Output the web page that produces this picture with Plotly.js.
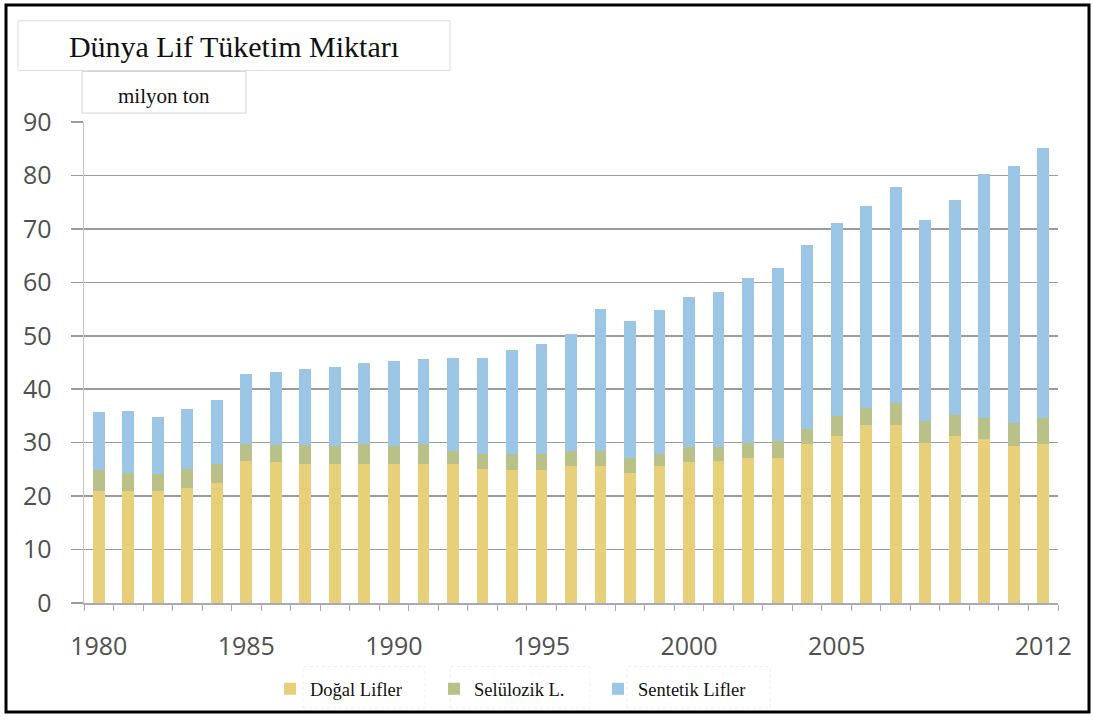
<!DOCTYPE html>
<html>
<head>
<meta charset="utf-8">
<script src="https://cdn.plot.ly/plotly-3.0.1.min.js"></script>
<style>
  html, body { margin: 0; padding: 0; background: #fff; }
  #chart { width: 1093px; height: 720px; }
</style>
</head>
<body>
<div id="chart"></div>
<script>
const years = [1980,1981,1982,1983,1984,1985,1986,1987,1988,1989,1990,1991,1992,1993,1994,1995,1996,1997,1998,1999,2000,2001,2002,2003,2004,2005,2006,2007,2008,2009,2010,2011,2012];
const dogalLifler = [21.0,21.0,21.0,21.5,22.4,26.5,26.3,26.0,26.0,26.0,26.0,26.0,26.0,25.1,24.8,24.8,25.7,25.7,24.4,25.7,26.3,26.6,27.2,27.2,29.7,31.3,33.4,33.4,30.0,31.2,30.6,29.4,29.7];
const seluloz = [3.8,3.4,3.1,3.6,3.6,3.3,3.3,3.6,3.4,3.7,3.4,3.7,2.5,2.7,3.0,3.0,2.8,2.8,2.8,2.1,2.8,2.5,2.8,3.1,2.8,3.7,3.1,4.0,4.0,4.0,4.0,4.3,4.9];
const sentetik = [10.9,11.5,10.7,11.2,12.0,13.0,13.7,14.2,14.8,15.2,15.9,16.0,17.4,18.1,19.5,20.6,21.9,26.5,25.5,27.1,28.1,29.0,30.9,32.4,34.4,36.1,37.8,40.5,37.7,40.2,45.7,48.1,50.6];
const seriesNames = ['Doğal Lifler', 'Selülozik L.', 'Sentetik Lifler'];
const xTickVals = [1980,1985,1990,1995,2000,2005,2012];
const xTickText = ['1980','1985','1990','1995','2000','2005','2012'];
const yTickVals = [0,10,20,30,40,50,60,70,80,90];
const chartTitle = 'Dünya Lif Tüketim Miktarı';
const unitLabel = 'milyon ton';

const colors = ['#E8D07A', '#B9C189', '#9CC6E6'];
const serif = 'Liberation Serif, Times New Roman, serif';
const sans = 'Open Sans, Lato, sans-serif';

const traces = [dogalLifler, seluloz, sentetik].map((vals, i) => ({
  type: 'bar',
  x: years,
  y: vals,
  name: seriesNames[i],
  marker: { color: colors[i], line: { width: 0 } },
  hoverinfo: 'skip'
}));

// pixel helpers for decoration placement (plot area: x 84..1058, y 122..607)
const L = 84, R = 1058, T = 122, B = 607;
const px = v => (v - L) / (R - L);
const py = v => (B - v) / (B - T);

const layout = {
  width: 1093,
  height: 720,
  margin: { l: L, r: 1093 - R, t: T, b: 720 - B, pad: 0 },
  paper_bgcolor: '#ffffff',
  plot_bgcolor: '#ffffff',
  barmode: 'stack',
  bargap: 0.6,
  showlegend: true,
  title: {
    text: chartTitle,
    x: 234 / 1093, xref: 'container', xanchor: 'center',
    y: 1 - 46 / 720, yref: 'container', yanchor: 'middle',
    font: { family: serif, size: 30, color: '#111' }
  },
  xaxis: {
    type: 'linear',
    range: [1979.5, 2012.5],
    tickmode: 'array',
    tickvals: xTickVals,
    ticktext: xTickText,
    ticks: '',
    ticklabelstandoff: 20,
    tickfont: { family: sans, size: 25, color: '#505050' },
    showgrid: false,
    zeroline: false,
    showline: true,
    linecolor: '#a9a9bd',
    linewidth: 1.5,
    minor: { ticks: 'outside', tick0: 1979.5, dtick: 1, ticklen: 6, tickwidth: 1, tickcolor: '#a9a9c4', showgrid: false },
    fixedrange: true
  },
  yaxis: {
    range: [0, 90],
    tickmode: 'array',
    tickvals: yTickVals,
    ticks: 'outside',
    ticklen: 12,
    tickwidth: 1.5,
    tickcolor: '#9c9c9c',
    ticklabelstandoff: 14,
    tickfont: { family: sans, size: 25, color: '#505050' },
    showgrid: true,
    gridcolor: '#9c9c9c',
    gridwidth: 1.5,
    zeroline: false,
    showline: true,
    linecolor: '#c4c4c4',
    linewidth: 1.5,
    fixedrange: true
  },
  legend: {
    orientation: 'h',
    x: px(270), xanchor: 'left',
    y: py(694), yanchor: 'middle',
    bgcolor: 'rgba(0,0,0,0)',
    font: { family: serif, size: 18.5, color: '#111' },
    traceorder: 'normal',
    entrywidth: 119,
    entrywidthmode: 'pixels',
    itemclick: false, itemdoubleclick: false
  },
  annotations: [
    {
      text: unitLabel, xref: 'paper', yref: 'paper',
      x: px(164), y: py(96), xanchor: 'center', yanchor: 'middle',
      showarrow: false, font: { family: serif, size: 21, color: '#111' }
    }
  ],
  shapes: [
    // outer frame
    { type: 'rect', xref: 'paper', yref: 'paper', x0: px(6), x1: px(1089), y0: py(717), y1: py(4),
      line: { color: '#000', width: 3 }, fillcolor: 'rgba(0,0,0,0)', layer: 'above' },
    // title box
    { type: 'rect', xref: 'paper', yref: 'paper', x0: px(18), x1: px(450), y0: py(70), y1: py(20),
      line: { color: '#dddddd', width: 1 }, fillcolor: 'rgba(0,0,0,0)' },
    // unit box
    { type: 'rect', xref: 'paper', yref: 'paper', x0: px(82), x1: px(246), y0: py(113), y1: py(71),
      line: { color: '#d4d4d4', width: 1 }, fillcolor: 'rgba(0,0,0,0)' },
    // faint legend item boxes
    { type: 'rect', xref: 'paper', yref: 'paper', x0: px(303), x1: px(425), y0: py(713), y1: py(671),
      line: { color: '#eeeeee', width: 1, dash: 'dot' }, fillcolor: 'rgba(0,0,0,0)' },
    { type: 'rect', xref: 'paper', yref: 'paper', x0: px(450), x1: px(590), y0: py(713), y1: py(671),
      line: { color: '#eeeeee', width: 1, dash: 'dot' }, fillcolor: 'rgba(0,0,0,0)' },
    { type: 'rect', xref: 'paper', yref: 'paper', x0: px(627), x1: px(770), y0: py(713), y1: py(671),
      line: { color: '#eeeeee', width: 1, dash: 'dot' }, fillcolor: 'rgba(0,0,0,0)' }
  ]
};

Plotly.newPlot('chart', traces, layout, { displayModeBar: false, staticPlot: true });
</script>
</body>
</html>
